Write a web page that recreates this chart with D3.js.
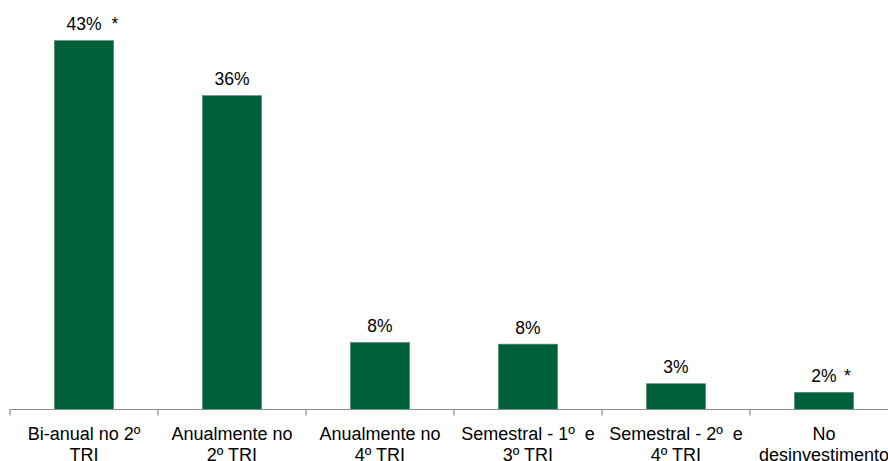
<!DOCTYPE html>
<html><head><meta charset="utf-8">
<script src="https://cdn.jsdelivr.net/npm/d3@7/dist/d3.min.js"></script>
<style>body{margin:0;background:#fff;overflow:hidden}svg{display:block}text{font-family:"Liberation Sans",Arial,sans-serif;fill:#000}</style>
</head><body><svg id="c" width="888" height="461"></svg>
<script>
const categories = [
  ["Bi-anual no 2º", "TRI"],
  ["Anualmente no", "2º TRI"],
  ["Anualmente no", "4º TRI"],
  ["Semestral - 1º  e", "3º TRI"],
  ["Semestral - 2º  e", "4º TRI"],
  ["No", "desinvestimento"]
];
const values = [42.9, 36.5, 7.8, 7.6, 3.0, 2.0];
const valueLabels = ["43%", "36%", "8%", "8%", "3%", "2%"];
const notes = ["*", "", "", "", "", "*"];

const svg = d3.select("#c");
const x = d3.scaleBand().domain(d3.range(categories.length)).range([10, 898]).paddingInner(0.6).paddingOuter(0.3);
const y = d3.scaleLinear().domain([0, 45]).range([409.5, 22.5]);

svg.selectAll("rect.bar").data(values).join("rect")
  .attr("class","bar")
  .attr("x",(d,i)=>x(i)).attr("width",x.bandwidth())
  .attr("y",d=>y(d)).attr("height",d=>y(0)-y(d))
  .attr("fill","#00603A").attr("stroke","#4f8f6f").attr("stroke-width",0.6);

// axis
const axisG = svg.append("g");
axisG.append("line").attr("x1",10).attr("x2",888).attr("y1",y(0)).attr("y2",y(0))
  .attr("stroke","#8a8a8a").attr("stroke-width",1.2);
const bounds = d3.range(categories.length+1).map(i=>10 + i*x.step());
axisG.selectAll("line.tick").data(bounds).join("line").attr("class","tick")
  .attr("x1",d=>d).attr("x2",d=>d).attr("y1",y(0)).attr("y2",y(0)+6)
  .attr("stroke","#8a8a8a").attr("stroke-width",1.2);

// value labels
const vl = svg.selectAll("text.val").data(values).join("text").attr("class","val")
  .attr("x",(d,i)=>x(i)+x.bandwidth()/2).attr("y",d=>y(d)-10.5)
  .attr("text-anchor","middle").style("font-size","17.5px")
  .text((d,i)=>valueLabels[i]);
svg.selectAll("text.note").data(values).join("text").attr("class","note")
  .attr("x",(d,i)=>x(i)+x.bandwidth()/2 + (i===0?27.5:20)).attr("y",d=>y(d)-10.5)
  .style("font-size","17.5px")
  .text((d,i)=>notes[i]);

// category labels
const cl = svg.selectAll("text.cat").data(categories).join("text").attr("class","cat")
  .attr("x",(d,i)=>x(i)+x.bandwidth()/2).attr("y",439.5)
  .attr("text-anchor","middle").style("font-size","18px").style("white-space","pre");
cl.each(function(d,i){
  const t=d3.select(this);
  d.forEach((line,j)=>{
    t.append("tspan").attr("x",x(i)+x.bandwidth()/2).attr("dy",j===0?0:21.5).text(line);
  });
});
</script></body></html>
